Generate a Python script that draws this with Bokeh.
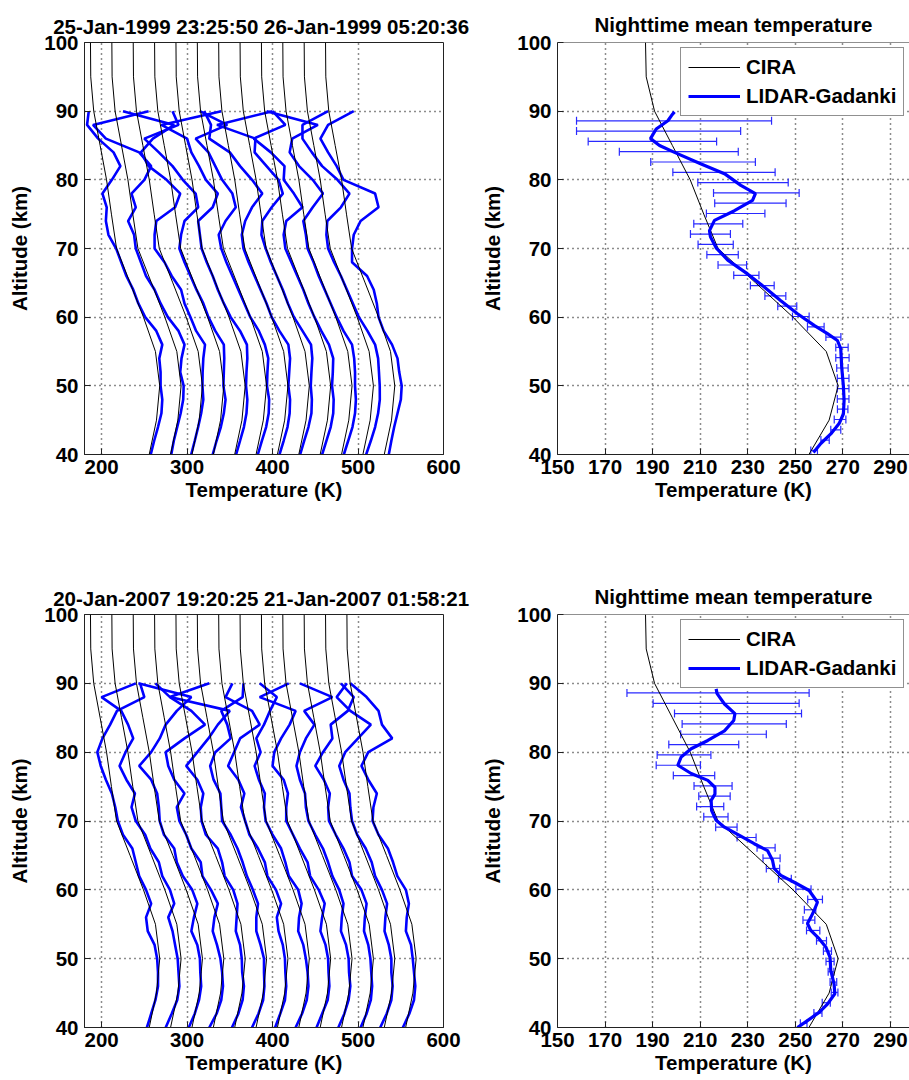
from bokeh.plotting import figure
from bokeh.layouts import column, row
from bokeh.models import (Range1d, FixedTicker, Legend, LegendItem, Whisker,
                          TeeHead, ColumnDataSource, Span)
from bokeh.embed import file_html
from bokeh.resources import INLINE

FONT = "Liberation Sans"
FS = "20.5px"
BLUE = "#0000ff"

# ---------------- data ----------------
TITLE_TOP = "25-Jan-1999 23:25:50  26-Jan-1999 05:20:36"
TITLE_BOT = "20-Jan-2007 19:20:25  21-Jan-2007 01:58:21"
TITLE_MEAN = "Nighttime mean temperature"
X_LABEL = "Temperature (K)"
Y_LABEL = "Altitude (km)"
LEGEND_LABELS = ["CIRA", "LIDAR-Gadanki"]

XTICKS_LEFT = [200, 300, 400, 500, 600]
XTICKS_RIGHT = [150, 170, 190, 210, 230, 250, 270, 290]
YTICKS = [40, 50, 60, 70, 80, 90, 100]
X_LEFT_RANGE = (180, 600)
X_RIGHT_RANGE = (150, 298.0)
Y_RANGE = (40, 100)

PROFILE_STEP = 25  # K shift between successive profiles

# CIRA reference model
CIRA_ALT = [40, 45, 50, 55, 60, 65, 70, 75, 80, 85, 90, 95, 100]
CIRA_T = [255.7, 264.2, 268.0, 263.0, 249.0, 233.3, 217.5, 211.5, 205.8, 198.3, 190.8, 187.3, 187.0]

# altitude grid of the individual lidar profiles
ALT = [40, 42, 44, 46, 48, 50, 52, 54, 56, 58, 60, 62, 64, 66, 68,
       70, 72, 74, 76, 78, 80, 82, 84, 86, 88, 90]

# 1999 night: individual profiles (K)
TOP_1 = [257.5, 261.5, 266, 270, 271, 269, 269, 267.5, 271, 264, 251, 243, 237, 229, 223,
         217, 208, 205, 206, 201, 212, 222, 214, 196, 183, 185]
TOP_2 = [256.5, 259.5, 263.5, 267.5, 270.5, 271, 267, 268.5, 272, 265, 252.5, 244, 237, 227, 221,
         215, 213, 206, 215, 210, 225, 233, 219, 180, 165, 230]
TOP_3 = [254.8, 259, 263, 266.5, 269, 268, 268.2, 269, 271, 260.6, 254, 247, 243, 232, 223.6,
         212, 212, 214, 236, 242, 226, 205, 196, 210, 235, 175]
TOP_4 = [255, 259.5, 264.5, 268, 270, 267.5, 268, 268.5, 268, 258, 250, 244, 236, 229, 222,
         216, 218, 222, 238, 235, 220, 208, 192, 175, 215, 208]
TOP_5 = [257.4, 262, 266.5, 269.5, 270.5, 269, 269.5, 270.5, 270, 262, 251, 243, 236, 230, 223,
         217, 215, 213, 230, 236, 222, 214, 205, 200, 170, 240]
TOP_6 = [257.8, 262.5, 267.5, 270.5, 271, 268.5, 269, 270, 266, 259, 249, 242, 235, 228, 221,
         215, 212, 220, 232, 228, 216, 208, 200, 185, 222, 190]
TOP_7 = [258.1, 263, 267.5, 270, 270.5, 268.5, 269.5, 270.5, 268.5, 258, 249, 243, 236, 229, 222,
         216, 214, 218, 226, 238, 226, 212, 200, 176, 178, 170]
TOP_8 = [257.3, 262, 267, 270.5, 271, 269.7, 270.5, 271.5, 270, 260, 250, 243, 237, 230, 223,
         217, 212, 213, 224, 237, 232, 218, 204, 205, 160, 225]
TOP_9 = [258, 263, 268, 271, 271.5, 269.6, 270.5, 271, 266, 257, 249, 242, 236, 229, 222,
         215, 213, 216, 235, 225, 213, 214, 198, 178, 215, 200]
TOP_10 = [258.4, 263.5, 268.5, 271.5, 272.5, 271.5, 271.5, 270.5, 268, 258, 250, 243, 236, 229, 223,
          216, 214, 211, 222, 234, 222, 206, 195, 198, 228, 168]
TOP_11 = [259.5, 265, 270, 273.5, 275.5, 275.4, 274.5, 273.5, 270, 261, 251, 244, 237, 230, 222,
          215, 213, 214, 230, 240, 226, 208, 196, 185, 185, 215]
TOP_12 = [261, 264, 267.3, 271.2, 275.1, 276.1, 273.2, 271.2, 264.8, 255, 249, 247, 243.4, 235.6, 218,
          218, 220, 228, 249, 245, 208, 200, 190, 181, 190, 220]
TOP_PROFILES = [TOP_1, TOP_2, TOP_3, TOP_4, TOP_5, TOP_6, TOP_7, TOP_8, TOP_9, TOP_10, TOP_11, TOP_12]

# 2007 night: individual profiles (K)
BOT_1 = [253, 258, 263, 266, 266, 265, 262, 254, 252, 258, 252, 244, 240, 236, 225,
         219, 216, 212, 205, 199, 195, 201, 210, 218, 250, 245]
BOT_2 = [250, 257, 263.5, 266, 265, 264, 261, 258, 253, 260, 255, 246, 242, 232, 226,
         215, 210, 214, 204, 196, 203, 212, 206, 198, 175, 215]
BOT_3 = [252, 259, 264, 266.5, 265.5, 265, 262, 255, 258, 262, 256, 245, 238, 235, 223,
         218, 217, 215, 208, 194, 208, 218, 225, 238, 255, 193]
BOT_4 = [251, 259.5, 265, 267, 266, 264, 260, 255, 257, 261, 253, 243, 241, 230, 224,
         216, 213, 222, 210, 203, 200, 222, 246, 230, 205, 188]
BOT_5 = [252.5, 260, 265, 266.5, 264.5, 264, 262, 257, 258, 259, 254, 244, 241, 236, 222,
         217, 216, 219, 212, 199, 212, 225, 236, 250, 180, 226]
BOT_6 = [251, 258.5, 264, 265.5, 265, 265, 261, 256, 256, 258, 252, 245, 240, 234, 226,
         216, 215, 214, 206, 202, 208, 226, 222, 215, 240, 241]
BOT_7 = [253, 259, 264.5, 266, 265, 264.5, 262, 257, 255, 260, 254, 244, 241, 233, 223,
         218, 213, 217, 210, 198, 205, 212, 235, 226, 195, 203]
BOT_8 = [252, 259.5, 265, 267, 266, 264, 261, 255, 256, 259, 255, 244, 240, 235, 225,
         217, 215, 216, 209, 204, 211, 206, 215, 222, 230, 210]
BOT_9 = [251.5, 258, 264.5, 266.5, 265.5, 265, 262, 256, 258, 261, 254, 244, 241, 232, 224,
         216, 216, 218, 213, 200, 202, 210, 220, 227, 185, 219]
BOT_10 = [252, 259, 264, 266, 264.5, 264, 261, 255, 256, 258, 253, 245, 240, 234, 225,
          217, 214, 213, 207, 203, 207, 214, 224, 212, 245, 207]
BOT_11 = [253, 260, 265, 266.5, 265.5, 264.5, 262, 257, 258, 260, 254, 243, 240, 233, 224,
          216, 215, 217, 210, 200, 209, 220, 218, 238, 245, 230]
BOT_12 = [251, 258.5, 264, 265.5, 264, 264, 261, 256, 257, 259, 253, 245, 241, 234, 224,
          218, 216, 215, 208, 203, 210, 225, 240, 216, 200, 212]
BOT_13 = [252.5, 260, 265.5, 267, 265.5, 264, 262, 256, 257, 259.5, 256, 246, 241, 235, 224,
          217, 218, 222, 212, 204, 212, 240, 228, 224, 210, 191]
BOT_PROFILES = [BOT_1, BOT_2, BOT_3, BOT_4, BOT_5, BOT_6, BOT_7, BOT_8, BOT_9, BOT_10,
                BOT_11, BOT_12, BOT_13]

# nighttime mean, 1999
TOP_MEAN_ALT = [40.3, 41.6, 43, 44.5, 45.9, 47.9, 50, 52.7, 55.4, 56.6, 57.6, 58.8, 60.5, 62.4,
                64.4, 66.3, 68.3, 70.1, 71.7, 72.6, 74.1, 75.5, 77, 78, 79.2, 80.9, 82.3, 84,
                85, 86, 87.4, 88.6, 89.4, 89.9]
TOP_MEAN_T = [257.6, 260.7, 264.9, 268.4, 270.2, 270.5, 270.2, 269.5, 269.1, 267.7, 263.5, 257.9,
              250.9, 243.9, 236.9, 229.9, 221.6, 216.7, 214.3, 213.9, 216, 224.4, 232, 233.2,
              227.1, 220.2, 210.4, 199.2, 192.9, 189.1, 191.5, 196.4, 198, 199.2]
ERR_ALT = [40.6, 42.1, 43.6, 45.1, 46.6, 48.1, 49.6, 51.1, 52.6, 54.1, 55.6, 57.1, 58.6, 60.1,
           61.6, 63.1, 64.6, 66.1, 67.6, 69.1, 70.6, 72.1, 73.6, 75.1, 76.6, 78.1, 79.6, 81.1,
           82.6, 84.1, 85.6, 87.1, 88.6]
TOP_ERR_T = [257.9, 262.5, 267, 268.8, 269.9, 270.1, 270.1, 270.1, 269.8, 269.8, 269.6, 266,
             258.6, 252.3, 246.6, 241.6, 236.1, 229.4, 223.5, 219.4, 216.5, 214.3, 217.6, 224.9,
             231.1, 233.6, 228, 220, 211.2, 201, 189.9, 192.5, 199]
TOP_ERR = [1.4, 1.75, 2.1, 2.45, 2.2, 2.45, 2.45, 2.45, 2.4, 2.8, 2.6, 3.15, 3.5, 3.5, 4, 4.4,
           5, 5.3, 6, 6.6, 7.4, 8.4, 10.3, 12.3, 15, 18, 19, 21.5, 22, 25, 27, 34.5, 41]

# nighttime mean, 2007
BOT_MEAN_ALT = [40, 41, 42.2, 43.4, 44.9, 46.3, 48.3, 50.2, 51.7, 52.9, 54.1, 55.1, 56, 57, 58.2,
                59.9, 61.1, 62.1, 63.1, 64.3, 65.7, 66.7, 67.9, 69.1, 70.1, 71.5, 73, 73.9, 74.9,
                75.9, 76.9, 78.1, 79.3, 80.5, 81.7, 83.1, 84.6, 85.6, 87, 88.5, 89.2]
BOT_MEAN_T = [250.9, 255.1, 260, 263.5, 266.6, 266.3, 264.9, 264.6, 262.8, 260, 256.5, 255.1,
              256.5, 257.9, 259.3, 255.8, 249.5, 243.9, 241.1, 240.4, 238.3, 232.7, 226.5, 220.2,
              216.7, 214.8, 214.6, 216.2, 216.2, 213.2, 206.2, 200.6, 202, 206.2, 213.2, 220.2,
              224.1, 224.6, 220.2, 217.1, 216.7]
BOT_ERR_T = [253.5, 259.5, 263, 266.5, 266, 265, 264.6, 263.5, 261, 257.5, 255.7, 256.2, 258.3,
             253.4, 245.6, 240.6, 240, 237.7, 229.5, 221, 216.6, 214.2, 216, 215.4, 207.4, 200.8,
             203.2, 211.5, 219.8, 224.3, 225.9, 220.9, 217.5]
BOT_ERR = [1.4, 1.7, 1.7, 1.4, 1.4, 1.2, 1.7, 1.7, 2.1, 2.8, 2.5, 2.4, 3.1, 3.2, 2.7, 2.8, 3.6,
           3.8, 4, 4.5, 5.1, 5.7, 6.6, 8, 8.7, 9.3, 11.3, 14.7, 18, 21.9, 26.7, 30.7, 38.3]


# ---------------- helpers ----------------
def base_fig(width, height, xr, xticks, title, bl, br, bt, bb, boxed, title_standoff):
    p = figure(width=width, height=height,
               x_range=Range1d(*xr), y_range=Range1d(*Y_RANGE),
               output_backend="svg", toolbar_location=None,
               min_border_left=bl, min_border_right=br,
               min_border_top=bt, min_border_bottom=bb,
               title=title)
    p.title.text_font = FONT
    p.title.text_font_size = FS
    p.title.text_font_style = "bold"
    p.title.text_color = "black"
    p.title.align = "center"
    p.title.standoff = title_standoff
    for ax in (p.xaxis[0], p.yaxis[0]):
        ax.major_label_text_font = FONT
        ax.major_label_text_font_size = FS
        ax.major_label_text_font_style = "bold"
        ax.major_label_text_color = "black"
        ax.axis_label_text_font = FONT
        ax.axis_label_text_font_size = FS
        ax.axis_label_text_font_style = "bold"
        ax.axis_label_text_color = "black"
        ax.major_tick_in = 6
        ax.major_tick_out = 0
        ax.major_tick_line_color = "#222222"
        ax.minor_tick_line_color = None
        ax.axis_line_color = "#222222"
    p.xaxis.ticker = FixedTicker(ticks=xticks)
    p.yaxis.ticker = FixedTicker(ticks=YTICKS)
    p.xaxis.axis_label = X_LABEL
    p.yaxis.axis_label = Y_LABEL
    p.xaxis.major_label_standoff = 5
    p.xaxis.axis_label_standoff = 1
    p.yaxis.major_label_standoff = 6
    p.yaxis.axis_label_standoff = 10
    p.grid.grid_line_color = "black"
    p.grid.grid_line_dash = "1 4"
    p.grid.grid_line_width = 1.5
    p.grid.grid_line_alpha = 0.9
    p.outline_line_color = "#222222" if boxed else None
    p.outline_line_width = 1
    p.background_fill_color = "white"
    p.border_fill_color = "white"
    return p


def profiles_panel(p, profiles):
    for i, prof in enumerate(profiles):
        p.line([t + i * PROFILE_STEP for t in prof], ALT, line_color=BLUE, line_width=2.6)
    for i in range(len(profiles)):
        p.line([t + i * PROFILE_STEP for t in CIRA_T], CIRA_ALT, line_color="black", line_width=1)


def mean_panel(p, mean_alt, mean_t, err_t, err, legend_y):
    src = ColumnDataSource(dict(alt=ERR_ALT,
                                lo=[c - h for c, h in zip(err_t, err)],
                                hi=[c + h for c, h in zip(err_t, err)]))
    w = Whisker(source=src, base="alt", lower="lo", upper="hi", dimension="width",
                line_color="#2a2aff", line_width=1.2,
                upper_head=TeeHead(size=8, line_color="#2a2aff", line_width=1.2),
                lower_head=TeeHead(size=8, line_color="#2a2aff", line_width=1.2))
    p.add_layout(w)
    r_cira = p.line(CIRA_T, CIRA_ALT, line_color="black", line_width=1)
    r_mean = p.line(mean_t, mean_alt, line_color=BLUE, line_width=3.2)
    p.add_layout(Span(location=Y_RANGE[1], dimension="width", line_color="#222222", line_width=1))
    leg = Legend(items=[LegendItem(label=LEGEND_LABELS[0], renderers=[r_cira]),
                        LegendItem(label=LEGEND_LABELS[1], renderers=[r_mean])],
                 location=(123, legend_y))
    leg.label_text_font = FONT
    leg.label_text_font_size = FS
    leg.label_text_font_style = "bold"
    leg.label_text_color = "black"
    leg.glyph_width = 52
    leg.label_standoff = 6
    leg.padding = 7
    leg.spacing = 5
    leg.margin = 0
    leg.border_line_color = "#222222"
    leg.border_line_width = 1
    leg.background_fill_color = "white"
    leg.background_fill_alpha = 1
    p.add_layout(leg)


# ---------------- figures ----------------
# page has no body margin: top frames at y 42..454, bottom frames at y 614..1027
tl = base_fig(478, 514, X_LEFT_RANGE, XTICKS_LEFT, TITLE_TOP, 84, 35, 42, 60, True, 10)
tr = base_fig(431, 514, X_RIGHT_RANGE, XTICKS_RIGHT, TITLE_MEAN, 78, 0, 42, 60, False, 14)
bl = base_fig(478, 566, X_LEFT_RANGE, XTICKS_LEFT, TITLE_BOT, 84, 35, 100, 53, True, 9)
br = base_fig(431, 566, X_RIGHT_RANGE, XTICKS_RIGHT, TITLE_MEAN, 78, 0, 100, 53, False, 13)

profiles_panel(tl, TOP_PROFILES)
profiles_panel(bl, BOT_PROFILES)
mean_panel(tr, TOP_MEAN_ALT, TOP_MEAN_T, TOP_ERR_T, TOP_ERR, 338)
mean_panel(br, BOT_MEAN_ALT, BOT_MEAN_T, BOT_ERR_T, BOT_ERR, 339)

layout = column(row(tl, tr), row(bl, br))

with open("out.html", "w") as f:
    f.write(file_html(layout, INLINE))
